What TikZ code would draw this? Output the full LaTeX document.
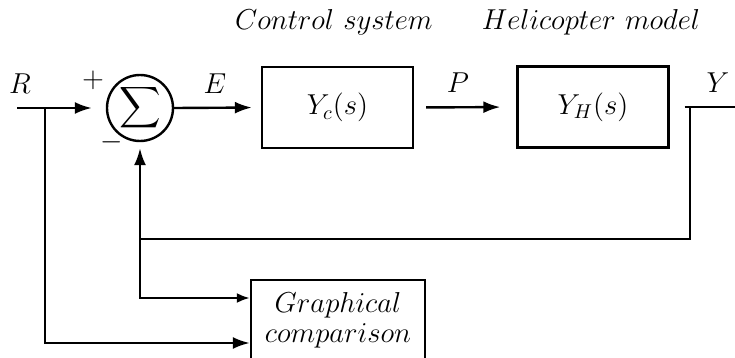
\documentclass[tikz,border=0pt]{standalone}
\usepackage{amsmath}
\usetikzlibrary{arrows.meta}
\begin{document}
\begin{tikzpicture}[x=0.5pt,y=-0.5pt,
  every node/.style={font=\Large},
  line/.style={line width=1.2pt},
  arr/.style={line width=1.2pt,-{Latex[length=8.5pt,width=6pt]}},
  sarr/.style={line width=1.2pt,-{Latex[length=6.5pt,width=5pt]}},
  blockbox/.style={draw,line width=1.2pt,minimum width=75.5pt,minimum height=40.5pt,inner sep=0pt},
  lab/.style={inner sep=0pt}]
\useasboundingbox (0,0) rectangle (735,358);
% blocks
\node[draw,circle,line width=1.2pt,minimum size=33pt,inner sep=0pt] (sum) at (140,108) {$\displaystyle\sum$};
\node[blockbox] (yc) at (337.5,107.5) {$Y_c(s)$};
\node[blockbox] (yh) at (593,107) {$Y_H(s)$};
\node[blockbox,minimum width=87pt,minimum height=40pt,align=center] (gc) at (338,320) {$Graphical$\\[-3pt]$comparison$};
% titles
\node[lab] (t1) at (334,22) {$Control\ system$};
\node[lab] (t2) at (591,22) {$Helicopter\ model$};
% coordinates
\coordinate (rin) at (17,108);
\coordinate (rsplit) at (45,108);
\coordinate (rlow) at (45,343);
\coordinate (yout) at (735,107);
\coordinate (ytap) at (690,107);
\coordinate (ycorner) at (690,239);
\coordinate (fb) at (140,239);
\coordinate (fblow) at (140,298);
% connectors
\draw[arr,shorten >=7pt] (rin) -- (sum.west);
\draw[arr,shorten >=4.5pt] (sum.east) -- (yc.west);
\draw[arr,shorten <=6pt,shorten >=8pt] (yc.east) -- (yh.west);
\draw[line,shorten <=7.5pt] (yh.east) -- (yout);
\draw[line] (ytap) -- (ycorner) -- (fb);
\draw[arr,shorten >=3pt] (fb) -- (sum.south);
\draw[sarr] (fb) -- (fblow) -- (fblow -| gc.west);
\draw[arr] (rsplit) -- (rlow) -- (rlow -| gc.west);
% labels
\node[lab] (lr) at (20,84) {$R$};
\node[lab] (lplus) at (93,80) {$+$};
\node[lab] (lminus) at (112,142) {$-$};
\node[lab] (le) at (215,84) {$E$};
\node[lab] (lp) at (458,83) {$P$};
\node[lab] (ly) at (718,83) {$Y$};
\end{tikzpicture}
\end{document}
